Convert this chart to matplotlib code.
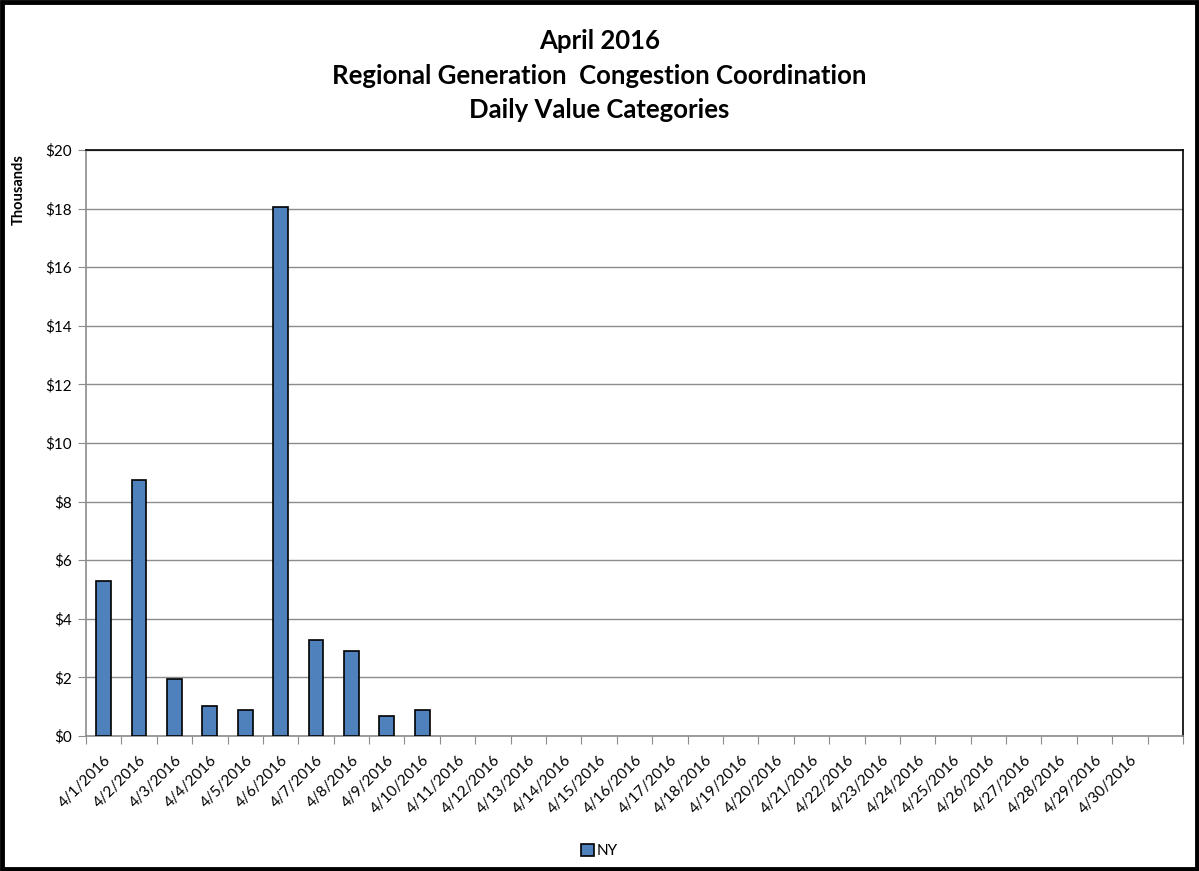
import numpy as np
import matplotlib
matplotlib.use("Agg")
import matplotlib.pyplot as plt
from matplotlib.patches import Rectangle
from matplotlib.ticker import FuncFormatter, FixedLocator

plt.rcParams['font.family'] = ['Lato', 'DejaVu Sans']

# daily values, thousands of $ (April 2016, NY)
days = ["4/%d/2016" % d for d in range(1, 31)] + [""]
ny = [5.3, 8.74, 1.93, 1.02, 0.89, 18.05, 3.28, 2.9, 0.68, 0.89] + [0] * 20 + [0]

x = np.arange(len(days))
vals = np.array(ny, dtype=float)
has = vals > 0

fig = plt.figure(figsize=(11.99, 8.71), dpi=100)
ax = fig.add_axes([0.0717, 0.155, 0.915, 0.6728])

ax.bar(x[has], vals[has], width=0.42, color="#4F81BD", edgecolor="black",
       linewidth=1.2, zorder=3, label="NY")

ax.set_ylim(0, 20)
ax.set_xlim(-0.5, len(days) - 0.5)
ax.set_yticks(np.arange(0, 21, 2))
ax.yaxis.set_major_formatter(FuncFormatter(lambda v, p: "$%d" % v))
ax.grid(axis="y", color="#8c8c8c", linewidth=1.0, zorder=0)

# category boundaries as ticks, labels at the centres
ax.xaxis.set_major_locator(FixedLocator(np.arange(-0.5, len(days), 1.0)))
ax.xaxis.set_minor_locator(FixedLocator(x))
ax.set_xticklabels([])
ax.set_xticklabels(days, minor=True, rotation=45, ha="right",
                   rotation_mode="anchor", fontsize=11)
ax.tick_params(axis="x", which="major", length=6, color="#8c8c8c", direction="out")
ax.tick_params(axis="x", which="minor", length=0, pad=12)
ax.tick_params(axis="y", length=6, color="#8c8c8c", labelsize=11, pad=4)

for s in ("left", "bottom"):
    ax.spines[s].set_color("#8c8c8c")
    ax.spines[s].set_linewidth(1.2)
for s in ("top", "right"):
    ax.spines[s].set_color("black")
    ax.spines[s].set_linewidth(1.2)

fig.text(0.5, 0.953, "April 2016", ha="center", va="center",
         fontsize=18.5, fontweight="bold")
fig.text(0.5, 0.913, "Regional Generation  Congestion Coordination", ha="center",
         va="center", fontsize=18.5, fontweight="bold")
fig.text(0.5, 0.874, "Daily Value Categories", ha="center", va="center",
         fontsize=18.5, fontweight="bold")
fig.text(0.016, 0.782, "Thousands", rotation=90, ha="center", va="center",
         fontsize=10.5, fontweight="bold")

fig.legend(loc="center", bbox_to_anchor=(0.5, 0.023), frameon=False,
           fontsize=11, handlelength=0.8, handleheight=0.8, handletextpad=0.2)

fig.patches.append(Rectangle((0.002, 0.002), 0.996, 0.996, transform=fig.transFigure,
                             fill=False, edgecolor="black", linewidth=3.5))

fig.savefig("out.png", dpi=100)
